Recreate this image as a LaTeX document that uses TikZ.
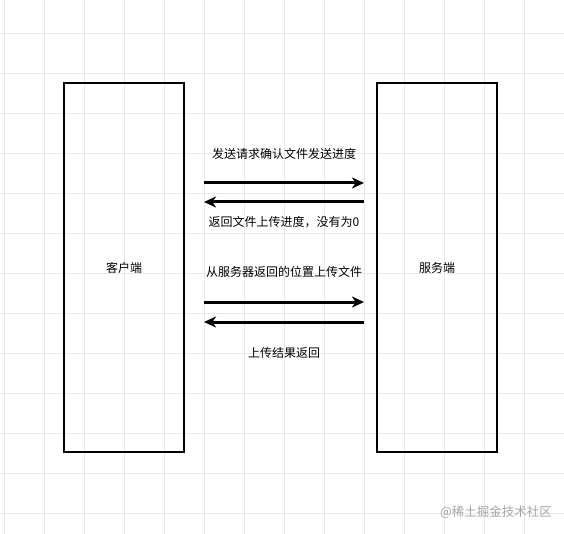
\documentclass[tikz,border=0pt]{standalone}
\usepackage{fontspec}
\setmainfont{Noto Sans CJK SC}
\usepackage{tikz}
\usetikzlibrary{arrows.meta, positioning}

\begin{document}
\begin{tikzpicture}[x=1pt, y=-1pt, >={Stealth[length=12pt, width=11pt, inset=3.5pt]},
    box/.style={draw, line width=2pt, minimum width=120pt, minimum height=369pt, inner sep=0pt, font=\fontsize{12}{14}\selectfont},
    msg/.style={->, line width=3pt},
    gridline/.style={black!9, line width=0.6pt},
    lbl/.style={font=\fontsize{12}{14}\selectfont, inner sep=0pt}]
    % nền lưới
    \useasboundingbox (0,0) rectangle (564,534);
    \fill[white] (0,0) rectangle (564,534);
    \foreach \gx in {4.5,44.5,...,564}
        \draw[gridline] (\gx,0) -- (\gx,534);
    \foreach \gy in {33,73,...,534}
        \draw[gridline] (0,\gy) -- (564,\gy);

    % hai khối: khách và máy chủ
    \node[box] (client) at (124,267.5) {客户端};
    \node[box] (server) at (437,267.5) {服务端};

    % đầu mút các mũi tên
    \coordinate (c1) at (204,183); \coordinate (s1) at (364,183);
    \coordinate (s2) at (364,202); \coordinate (c2) at (204,202);
    \coordinate (c3) at (204,302); \coordinate (s3) at (364,302);
    \coordinate (s4) at (364,322); \coordinate (c4) at (204,322);

    \draw[msg] (c1) -- (s1);
    \draw[msg] (s2) -- (c2);
    \draw[msg] (c3) -- (s3);
    \draw[msg] (s4) -- (c4);

    % nhãn
    \node[lbl] (t1) at (284,154) {发送请求确认文件发送进度};
    \node[lbl] (t2) at (284,222) {返回文件上传进度，没有为0};
    \node[lbl] (t3) at (284,272) {从服务器返回的位置上传文件};
    \node[lbl] (t4) at (284,353) {上传结果返回};

    \node[font=\fontsize{12.5}{14}\selectfont, text=black!35, inner sep=0pt] (mark) at (496,512) {@稀土掘金技术社区};
\end{tikzpicture}
\end{document}
